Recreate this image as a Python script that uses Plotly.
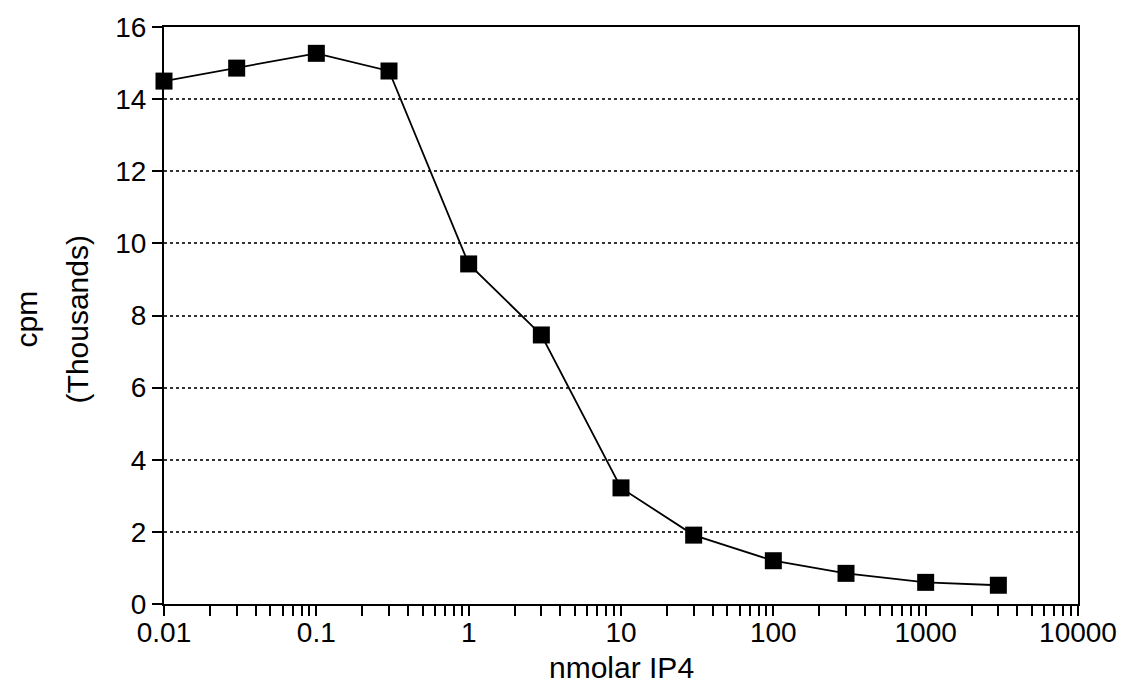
import plotly.graph_objects as go

conc_nM = [0.01, 0.03, 0.1, 0.3, 1, 3, 10, 30, 100, 300, 1000, 3000]
cpm_thousands = [14.5, 14.86, 15.27, 14.78, 9.43, 7.46, 3.22, 1.91, 1.2, 0.85, 0.6, 0.52]

x_tick_vals = [0.01, 0.1, 1, 10, 100, 1000, 10000]
x_tick_text = ["0.01", "0.1", "1", "10", "100", "1000", "10000"]
y_tick_vals = [0, 2, 4, 6, 8, 10, 12, 14, 16]

font_family = "Liberation Sans, Arial, sans-serif"

W, H = 1131, 693
ML, MR, MT, MB = 164, 53, 18, 89
plot_w = W - ML - MR
plot_h = H - MT - MB

def px_x(px):
    return (px - ML) / plot_w

def px_y(py):
    return 1 - (py - MT) / plot_h

fig = go.Figure()
fig.add_trace(go.Scatter(
    x=conc_nM, y=cpm_thousands, mode="lines+markers",
    line=dict(color="black", width=1.8),
    marker=dict(symbol="square", size=17, color="black"),
    showlegend=False, cliponaxis=False,
))

fig.update_layout(
    width=W, height=H,
    margin=dict(l=ML, r=MR, t=MT, b=MB),
    paper_bgcolor="white", plot_bgcolor="white",
    font=dict(family=font_family, size=28, color="black"),
    xaxis=dict(
        type="log", range=[-2, 4],
        tickvals=x_tick_vals, ticktext=x_tick_text,
        ticks="outside", ticklen=10, tickwidth=2, tickcolor="black",
        showline=True, linecolor="black", linewidth=2, mirror=True,
        showgrid=False, zeroline=False,
        minor=dict(ticks="outside", ticklen=10, tickwidth=2, tickcolor="black",
                   dtick="D1", showgrid=False),
        tickfont=dict(size=28),
        ticklabelstandoff=-8,
    ),
    yaxis=dict(
        range=[0, 16], tickvals=y_tick_vals,
        ticks="outside", ticklen=10, tickwidth=2, tickcolor="black",
        showline=True, linecolor="black", linewidth=2, mirror=True,
        showgrid=True, gridcolor="#333333", griddash="dot", gridwidth=1.5,
        zeroline=False,
        tickfont=dict(size=28),
    ),
    annotations=[
        dict(text="cpm", x=px_x(26), y=px_y(315), xref="paper", yref="paper",
             xanchor="center", yanchor="middle", textangle=-90, showarrow=False,
             font=dict(size=30)),
        dict(text="(Thousands)", x=px_x(77), y=px_y(315), xref="paper", yref="paper",
             xanchor="center", yanchor="middle", textangle=-90, showarrow=False,
             font=dict(size=30)),
        dict(text="nmolar IP4", x=px_x(621), y=px_y(668), xref="paper", yref="paper",
             xanchor="center", yanchor="middle", showarrow=False,
             font=dict(size=30)),
    ],
)

fig.write_html("out.html")
